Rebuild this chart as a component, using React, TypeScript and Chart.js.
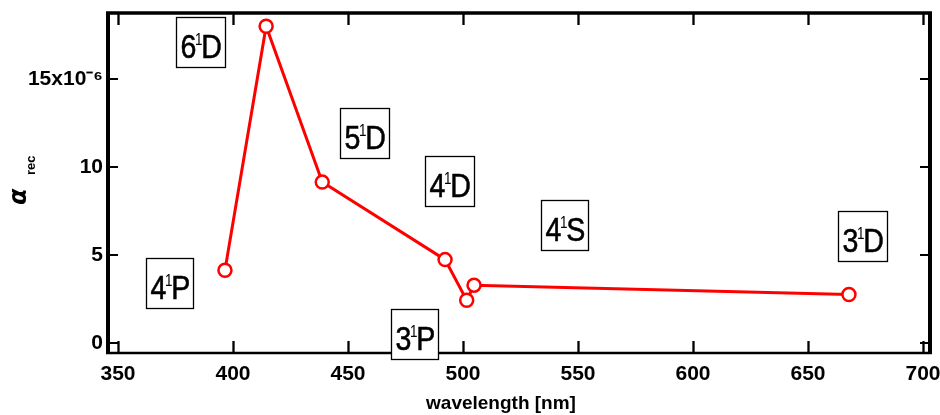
import React, { useEffect, useRef } from 'react';
import { Chart, registerables } from 'chart.js';
Chart.register(...registerables);

// He I emission lines: wavelength [nm] and recombination coefficient (x10^-6)
const wavelengths = [396.5, 414.4, 438.8, 492.2, 501.6, 504.8, 667.8];
const alphaRec = [4.15, 18.0, 9.15, 4.75, 2.44, 3.3, 2.77];

// level annotations
const levelNumber = ['4', '6', '5', '4', '3', '4', '3'];
const levelLetter = ['P', 'D', 'D', 'D', 'P', 'S', 'D'];
const labelX = [372.2, 385.7, 457.3, 494.3, 479.1, 544.1, 673.7];
const labelY = [3.42, 17.13, 11.93, 9.21, 0.55, 6.72, 6.08];

const xTicksStep = 50;
const yTicksStep = 5;
const xTitle = 'wavelength [nm]';

export default function App() {
  const ref = useRef<HTMLCanvasElement>(null);
  useEffect(() => {
    document.body.style.margin = '0';
    const canvas = ref.current!;
    const fam = '"Liberation Sans", sans-serif';
    const squeeze = 0.84;

    const framePlugin = {
      id: 'frame',
      beforeDatasetsDraw(chart: any) {
        const { ctx, chartArea: a, scales } = chart;
        const xs = scales.x, ys = scales.y;
        ctx.save();
        ctx.strokeStyle = '#000';
        ctx.lineCap = 'butt';
        ctx.lineWidth = 2.3;
        xs.ticks.forEach((t: any) => {
          const px = Math.round(xs.getPixelForValue(t.value)) + 0.5;
          ctx.beginPath();
          ctx.moveTo(px, a.bottom); ctx.lineTo(px, a.bottom - 12);
          ctx.moveTo(px, a.top); ctx.lineTo(px, a.top + 12);
          ctx.stroke();
        });
        ctx.lineWidth = 2;
        ys.ticks.forEach((t: any) => {
          const py = Math.round(ys.getPixelForValue(t.value));
          ctx.beginPath();
          ctx.moveTo(a.left, py); ctx.lineTo(a.left + 10, py);
          ctx.moveTo(a.right, py); ctx.lineTo(a.right - 10, py);
          ctx.stroke();
        });
        ctx.lineWidth = 3.5;
        ctx.beginPath(); ctx.moveTo(a.left - 2, a.top); ctx.lineTo(a.right + 2, a.top); ctx.stroke();
        ctx.lineWidth = 2.5;
        ctx.beginPath(); ctx.moveTo(a.left - 2, a.bottom); ctx.lineTo(a.right + 2, a.bottom); ctx.stroke();
        ctx.lineWidth = 4;
        ctx.beginPath(); ctx.moveTo(a.left, a.top); ctx.lineTo(a.left, a.bottom + 1); ctx.stroke();
        ctx.beginPath(); ctx.moveTo(a.right, a.top); ctx.lineTo(a.right, a.bottom + 1); ctx.stroke();
        ctx.restore();
      },
      afterDraw(chart: any) {
        const { ctx, scales } = chart;
        const xs = scales.x, ys = scales.y;
        ctx.save();
        const big = 34, small = 16;
        for (let i = 0; i < levelNumber.length; i++) {
          const cx = xs.getPixelForValue(labelX[i]);
          const cy = ys.getPixelForValue(labelY[i]);
          ctx.font = `${big}px ${fam}`;
          const w1 = ctx.measureText(levelNumber[i]).width;
          const w3 = ctx.measureText(levelLetter[i]).width;
          ctx.font = `${small}px ${fam}`;
          const w2 = ctx.measureText('1').width * 0.7;
          const tw = (w1 + w2 + w3) * squeeze;
          const bw = Math.round(tw + 7), bh = 50;
          const left = Math.round(cx - bw / 2) + 0.5, top = Math.round(cy - bh / 2) + 0.5;
          ctx.fillStyle = '#fff';
          ctx.fillRect(left, top, bw, bh);
          ctx.strokeStyle = '#000';
          ctx.lineWidth = 1.3;
          ctx.strokeRect(left, top, bw, bh);
          const base = top + bh - 10;
          ctx.save();
          ctx.translate(left + 4, base);
          ctx.scale(squeeze, 1);
          ctx.fillStyle = '#000';
          ctx.strokeStyle = '#000';
          ctx.lineWidth = 0.6;
          ctx.textBaseline = 'alphabetic';
          ctx.textAlign = 'left';
          ctx.font = `${big}px ${fam}`;
          ctx.fillText(levelNumber[i], 0, 0);
          ctx.strokeText(levelNumber[i], 0, 0);
          ctx.font = `${small}px ${fam}`;
          ctx.fillText('1', w1 - 1.5, -(big - small) * 0.716);
          ctx.font = `${big}px ${fam}`;
          ctx.fillText(levelLetter[i], w1 + w2 - 0.5, 0);
          ctx.strokeText(levelLetter[i], w1 + w2 - 0.5, 0);
          ctx.restore();
        }
        // y title
        ctx.save();
        ctx.fillStyle = '#000';
        ctx.translate(26, 205);
        ctx.rotate(-Math.PI / 2);
        ctx.textAlign = 'left';
        ctx.textBaseline = 'alphabetic';
        ctx.font = 'italic bold 24px "DejaVu Sans", sans-serif';
        ctx.fillText('α', 0, 0);
        ctx.font = 'bold 13px "Liberation Sans", sans-serif';
        ctx.fillText('rec', 30, 9);
        ctx.restore();
        // x title
        ctx.fillStyle = '#000';
        ctx.textAlign = 'center';
        ctx.textBaseline = 'middle';
        ctx.font = 'bold 19px "Liberation Sans", sans-serif';
        ctx.fillText(xTitle, 501, 404);
        ctx.restore();
      },
    };

    const tickFont = { family: fam, size: 21, weight: 'bold' as const };

    const chart = new Chart(canvas, {
      type: 'line',
      data: {
        datasets: [{
          data: wavelengths.map((w, i) => ({ x: w, y: alphaRec[i] })),
          borderColor: '#ff0000',
          borderWidth: 3,
          pointRadius: 6.5,
          pointBorderWidth: 2.5,
          pointBackgroundColor: '#ffffff',
          pointBorderColor: '#ff0000',
          tension: 0,
          clip: false as any,
        }],
      },
      options: {
        animation: false,
        responsive: false,
        layout: { padding: { left: 0, right: 10, top: 13, bottom: 0 } },
        plugins: { legend: { display: false }, tooltip: { enabled: false } },
        scales: {
          x: {
            type: 'linear', min: 345.65, max: 703.04,
            afterFit: (s: any) => { s.height = 62; s.paddingLeft = 0; s.paddingRight = 0; },
            grid: { display: false, drawTicks: false },
            border: { display: false },
            ticks: { stepSize: xTicksStep, includeBounds: false, font: tickFont, color: '#000', padding: 9, maxRotation: 0 },
          },
          y: {
            type: 'linear', min: -0.551, max: 18.75,
            afterFit: (s: any) => { s.width = 108; s.paddingTop = 0; s.paddingBottom = 0; },
            grid: { display: false, drawTicks: false },
            border: { display: false },
            ticks: {
              stepSize: yTicksStep, includeBounds: false, font: tickFont, color: '#000', padding: 5,
              callback: (v: any) => (Math.abs(v - 15) < 1e-9 ? '15x10\u207B\u2076' : String(Math.round(v))),
            },
          },
        },
      },
      plugins: [framePlugin],
    });
    return () => chart.destroy();
  }, []);
  return (
    <div style={{ width: 940, height: 415 }}>
      <canvas ref={ref} width={940} height={415} style={{ display: 'block' }} />
    </div>
  );
}
